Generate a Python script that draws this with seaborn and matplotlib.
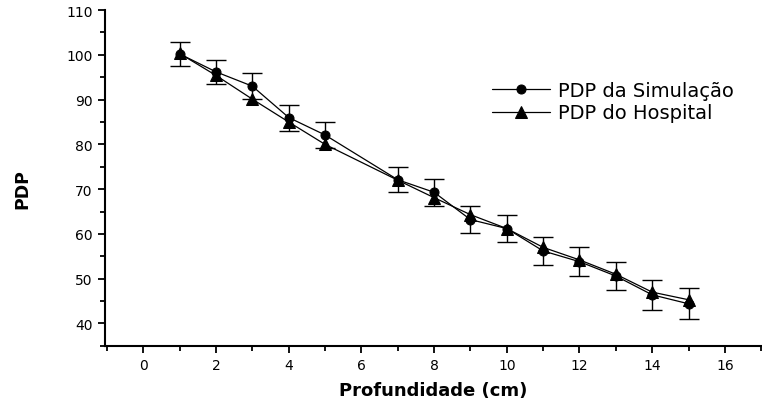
import numpy as np
import pandas as pd
import matplotlib
matplotlib.use('Agg')
import matplotlib.pyplot as plt
import seaborn as sns
from matplotlib.ticker import MultipleLocator

# dados
profundidade = [1, 2, 3, 4, 5, 7, 8, 9, 10, 11, 12, 13, 14, 15]
pdp_simulacao = [100.2, 96.2, 93.0, 86.0, 82.1, 72.1, 69.3, 63.2, 61.2, 56.2, 53.8, 50.6, 46.4, 44.4]
erro_simulacao = [2.6, 2.7, 2.9, 2.9, 2.9, 2.8, 3.0, 3.0, 3.0, 3.1, 3.2, 3.2, 3.3, 3.5]
pdp_hospital = [100.3, 95.4, 90.1, 85.0, 80.0, 72.0, 68.1, 64.3, 61.2, 57.0, 54.2, 51.0, 47.0, 45.3]

sim = pd.DataFrame({'x': profundidade, 'y': pdp_simulacao})
hosp = pd.DataFrame({'x': profundidade, 'y': pdp_hospital})

sns.set_style('ticks')
plt.rcParams['font.family'] = ['DejaVu Sans']
plt.rcParams['text.color'] = 'black'
plt.rcParams['axes.labelcolor'] = 'black'
plt.rcParams['xtick.color'] = 'black'
plt.rcParams['ytick.color'] = 'black'

fig = plt.figure(figsize=(7.62, 4.10), dpi=100)
ax = fig.add_axes([0.138, 0.154, 0.861, 0.819])

# barras de erro
ax.errorbar(sim['x'], sim['y'], yerr=erro_simulacao, fmt='none',
            ecolor='black', elinewidth=1, capsize=7, capthick=1, zorder=2)

sns.lineplot(data=sim, x='x', y='y', ax=ax, color='black', lw=0.9,
             marker='o', markersize=6.5, markeredgecolor='black',
             label='PDP da Simulação', zorder=3)
sns.lineplot(data=hosp, x='x', y='y', ax=ax, color='black', lw=0.9,
             marker='^', markersize=8.5, markeredgecolor='black',
             label='PDP do Hospital', zorder=3)

ax.set_xlim(-1.05, 17)
ax.set_ylim(35, 110)
ax.set_xticks(np.arange(0, 17, 2))
ax.set_yticks(np.arange(40, 111, 10))
ax.xaxis.set_minor_locator(MultipleLocator(1))
ax.yaxis.set_minor_locator(MultipleLocator(5))

sns.despine(ax=ax)
for s in ['left', 'bottom']:
    ax.spines[s].set_linewidth(1.5)
    ax.spines[s].set_color('black')
ax.tick_params(which='major', length=5, width=1.3, color='black', labelcolor='black', labelsize=10, pad=4)
ax.tick_params(which='minor', length=3.5, width=1.3, color='black')

ax.set_xlabel('Profundidade (cm)', fontsize=13, fontweight='bold', color='black')
ax.set_ylabel('PDP', fontsize=12.5, fontweight='bold', color='black')
ax.xaxis.set_label_coords(0.5, -0.104)
ax.yaxis.set_label_coords(-0.112, 0.47)

leg = ax.legend(loc='upper left', bbox_to_anchor=(0.589, 0.79), frameon=False,
                fontsize=14, handlelength=3, handletextpad=0.4, labelspacing=0.2,
                borderpad=0, borderaxespad=0)
for t in leg.get_texts():
    t.set_color('black')

plt.savefig('out.png', dpi=100)
